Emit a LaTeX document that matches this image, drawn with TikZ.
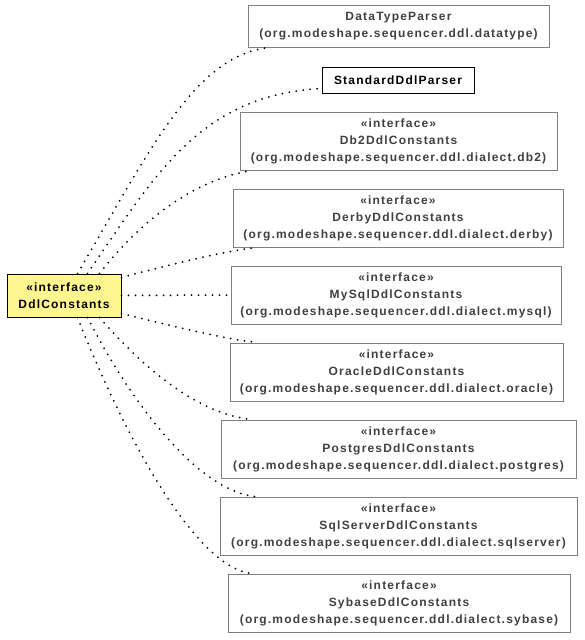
\documentclass[tikz,border=0pt]{standalone}
\usepackage{fontspec}
\newfontfamily\umlfont{Liberation Sans}[LetterSpace=10]
\usetikzlibrary{calc}
\definecolor{umlyellow}{RGB}{255,246,143}
\definecolor{umltext}{RGB}{64,64,64}
\definecolor{umlframe}{RGB}{128,128,128}
\tikzset{
	classbox/.style={draw=umlframe, line width=1pt, text=umltext, inner sep=0pt, align=center,
		minimum height=58pt, font=\umlfont\bfseries\fontsize{12}{17}\selectfont},
	mainbox/.style={classbox, draw=black, text=black},
	dep/.style={black, line width=2pt, line cap=round, dash pattern=on 0pt off 7pt}
}
\begin{document}
\begin{tikzpicture}[x=1pt, y=-1pt]
		\useasboundingbox (0,0) rectangle (584,640);
		\node[mainbox, fill=umlyellow, minimum width=114pt, minimum height=43pt] (ddl) at (64,295.5) {\guillemotleft interface\guillemotright\\DdlConstants};
		\node[classbox, minimum width=301pt, minimum height=42pt] (dtp) at (398.5,26) {DataTypeParser\\(org.modeshape.sequencer.ddl.datatype)};
		\node[mainbox, minimum width=152pt, minimum height=26pt] (sdp) at (398,80) {StandardDdlParser};
		\node[classbox, minimum width=317pt] (db2) at (398.5,141) {\guillemotleft interface\guillemotright\\Db2DdlConstants\\(org.modeshape.sequencer.ddl.dialect.db2)};
		\node[classbox, minimum width=330pt] (derby) at (398,218) {\guillemotleft interface\guillemotright\\DerbyDdlConstants\\(org.modeshape.sequencer.ddl.dialect.derby)};
		\node[classbox, minimum width=330pt] (mysql) at (396,295) {\guillemotleft interface\guillemotright\\MySqlDdlConstants\\(org.modeshape.sequencer.ddl.dialect.mysql)};
		\node[classbox, minimum width=333pt] (oracle) at (396.5,372) {\guillemotleft interface\guillemotright\\OracleDdlConstants\\(org.modeshape.sequencer.ddl.dialect.oracle)};
		\node[classbox, minimum width=355pt] (postgres) at (398.5,449) {\guillemotleft interface\guillemotright\\PostgresDdlConstants\\(org.modeshape.sequencer.ddl.dialect.postgres)};
		\node[classbox, minimum width=357pt] (sqlserver) at (398.5,526) {\guillemotleft interface\guillemotright\\SqlServerDdlConstants\\(org.modeshape.sequencer.ddl.dialect.sqlserver)};
		\node[classbox, minimum width=342pt] (sybase) at (399,603) {\guillemotleft interface\guillemotright\\SybaseDdlConstants\\(org.modeshape.sequencer.ddl.dialect.sybase)};
		\draw[dep] ($(ddl.north west)+(71,0)$) .. controls (150,150) and (195,55) .. ($(dtp.south west)+(22,0)$);
		\draw[dep] ($(ddl.north west)+(81,0)$) .. controls (155,175) and (200,95) .. ($(sdp.south west)+(0,-5)$);
		\draw[dep] ($(ddl.north west)+(93,0)$) .. controls (145,215) and (200,178) .. ($(db2.south west)+(13,0)$);
		\draw[dep] ($(ddl.north east)+(0,4)$) .. controls (180,262) and (230,250) .. ($(derby.south west)+(25,0)$);
		\draw[dep] (ddl.east) -- (mysql.west);
		\draw[dep] ($(ddl.south east)+(0,-4)$) .. controls (180,328) and (230,340) .. ($(oracle.north west)+(28,0)$);
		\draw[dep] ($(ddl.south west)+(93,0)$) .. controls (145,370) and (200,415) .. ($(postgres.north west)+(32,0)$);
		\draw[dep] ($(ddl.south west)+(81,0)$) .. controls (135,410) and (200,490) .. ($(sqlserver.north west)+(35,0)$);
		\draw[dep] ($(ddl.south west)+(71,0)$) .. controls (130,450) and (200,570) .. ($(sybase.north west)+(25,0)$);
	\end{tikzpicture}
\end{document}
